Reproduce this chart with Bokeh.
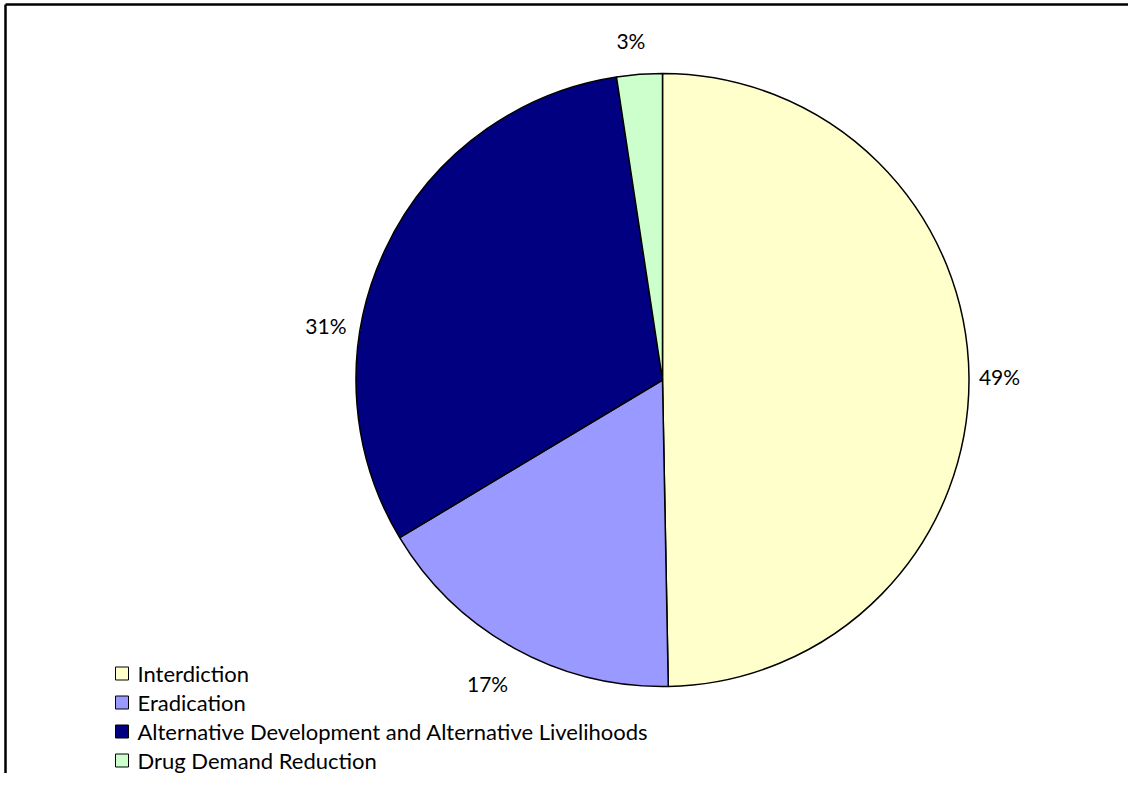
import math
from bokeh.plotting import figure
from bokeh.models import Range1d, ColumnDataSource
from bokeh.core.properties import value
from bokeh.embed import file_html
from bokeh.resources import INLINE

# ---- data ----
categories = ["Interdiction", "Eradication",
              "Alternative Development and Alternative Livelihoods",
              "Drug Demand Reduction"]
shares = [49.7, 16.7, 31.2, 2.4]
pct_labels = ["49%", "17%", "31%", "3%"]
colors = ["#FFFFCC", "#9999FF", "#000080", "#CCFFCC"]

# ---- layout (figure pixel space, y measured from top via H - y) ----
W, H = 1128, 773
FONT = "Lato"
cx, cy, R = 662, H - 379.5, 306.5
label_dist = [337, 350, 341, 341]
label_shift = [0, 1, -16, -1]   # degrees, clockwise positive

p = figure(width=W, height=H, output_backend="svg", toolbar_location=None,
           x_range=Range1d(0, W), y_range=Range1d(0, H),
           x_axis_type=None, y_axis_type=None, min_border=0)
p.grid.visible = False
p.outline_line_color = None
p.background_fill_color = "white"

total = sum(shares)
start = 0.0
starts, ends = [], []
for s in shares:
    a0 = start / total * 360.0
    a1 = (start + s) / total * 360.0
    starts.append(90 - a1)
    ends.append(90 - a0)
    start += s

src = ColumnDataSource(dict(x=[cx] * 4, y=[cy] * 4, start=starts, end=ends,
                            color=colors, name=categories))
p.wedge(x="x", y="y", radius=R, start_angle="start", end_angle="end",
        start_angle_units="deg", end_angle_units="deg", direction="anticlock",
        fill_color="color", line_color="black", line_width=1.5, source=src)

# percentage labels
lx, ly = [], []
for i in range(4):
    mid_cw = 90 - (starts[i] + ends[i]) / 2 + label_shift[i]
    t = math.radians(mid_cw)
    lx.append(cx + label_dist[i] * math.sin(t))
    ly.append(cy + label_dist[i] * math.cos(t))
p.text(x=lx, y=ly, text=pct_labels, text_font=value(FONT),
       text_font_size="21px", text_align="center", text_baseline="middle",
       text_color="black")

# legend (manual)
leg_x = 115
row0 = H - 673
row_step = 29
sq = 13
rows_y = [row0 - i * row_step for i in range(4)]
p.rect(x=[leg_x + sq / 2] * 4, y=rows_y, width=sq, height=sq,
       fill_color=colors, line_color="black", line_width=1)
p.text(x=[leg_x + sq + 9] * 4, y=rows_y, text=categories, text_font=value(FONT),
       text_font_size="22px", text_align="left", text_baseline="middle",
       text_color="black")

# border (top and left only visible)
bx, by = 5, H - 4
p.segment(x0=[bx, bx], y0=[0, by], x1=[bx, W], y1=[by, by],
          line_color="black", line_width=2.5)

open("out.html", "w").write(file_html(p, INLINE))
